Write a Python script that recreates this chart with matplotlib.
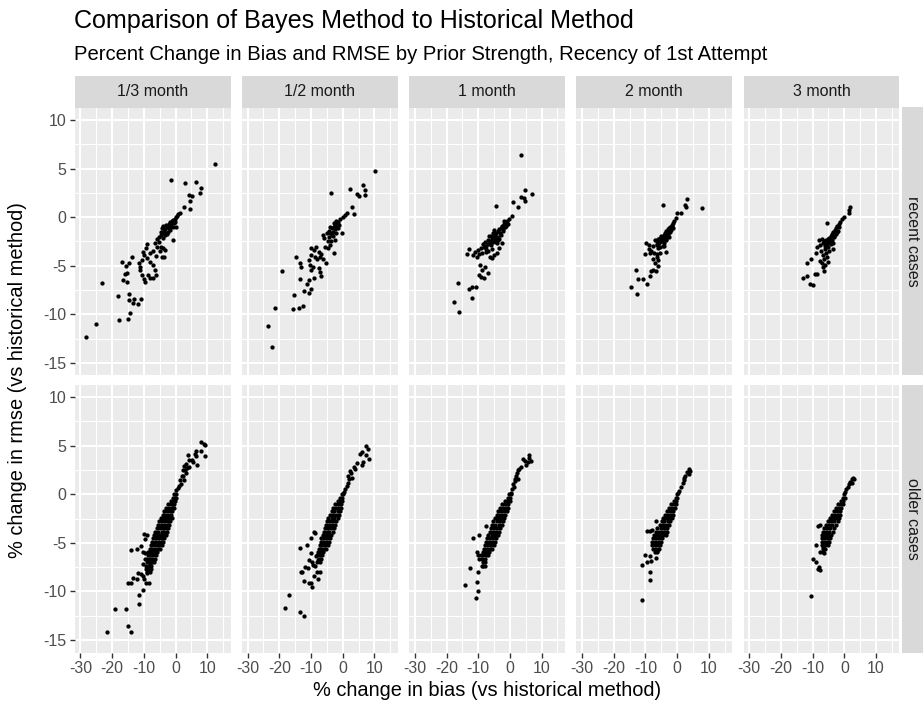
import numpy as np
import matplotlib.pyplot as plt
from matplotlib.patches import Rectangle

plt.rcParams['font.family'] = ['Liberation Sans', 'DejaVu Sans']
plt.rcParams['axes.unicode_minus'] = False

priors = ['1/3 month', '1/2 month', '1 month', '2 month', '3 month']
recency = ['recent cases', 'older cases']
x_ticks = [-30, -20, -10, 0, 10]
y_ticks = [-15, -10, -5, 0, 5, 10]

# (% change in bias, % change in rmse) -- recent cases
recent_13 = [(12.6, 5.48), (-1.37, 3.82), (2.83, 3.51), (6.5, 3.58), (7.9, 3.0), (7.66, 2.51),
             (4.2, 2.34), (5.1, 2.17), (4.6, 1.62), (2.6, 1.1), (4.5, 0.83), (1.4, 0.48),
             (0.84, 0.34), (0.5, 0.14), (0.1, 0.0), (-0.3, -0.17), (-0.7, -0.28), (-1.2, -0.34),
             (-1.6, -0.45), (-2.0, -0.69), (-2.4, -0.9), (-2.8, -1.03), (-3.25, -1.24),
             (-3.7, -1.38), (-4.1, -1.58), (-4.5, -1.79), (-4.7, -1.48), (-3.9, -0.9),
             (-3.0, -0.83), (-2.2, -1.14), (-1.6, -1.31), (-0.9, -0.96), (-0.5, -0.62),
             (0.3, -0.96), (-1.3, -0.69), (-2.3, -1.48), (-3.4, -1.83), (-4.3, -1.14),
             (-0.2, -0.45), (-0.7, -2.34), (-5.35, -2.07), (-6.0, -2.27), (-5.1, -2.51),
             (-6.5, -2.69), (-4.7, -3.03), (-5.8, -3.03), (-3.9, -3.2), (-3.25, -3.37),
             (-4.4, -4.06), (-3.7, -4.13), (-6.2, -4.0), (-7.0, -3.44), (-8.1, -3.72),
             (-9.1, -2.75), (-9.3, -3.2), (-10.2, -3.55), (-9.8, -3.9), (-10.7, -4.4),
             (-11.4, -4.75), (-11.2, -5.44), (-10.6, -5.96), (-10.0, -6.4), (-9.55, -6.65),
             (-8.1, -6.3), (-7.0, -6.3), (-6.2, -5.96), (-6.5, -5.44), (-7.0, -4.92),
             (-7.9, -4.58), (-9.1, -4.24), (-11.2, -5.1), (-8.8, -5.96), (-13.6, -4.06),
             (-17.0, -4.58), (-14.6, -4.75), (-15.7, -5.03), (-15.2, -5.72), (-15.85, -5.85),
             (-16.7, -6.47), (-15.4, -6.68), (-23.3, -6.75), (-18.0, -8.1), (-14.7, -7.95),
             (-14.6, -8.5), (-13.1, -8.4), (-13.3, -8.8), (-11.9, -8.95), (-11.0, -8.47),
             (-14.3, -9.85), (-17.7, -10.54), (-14.9, -10.5), (-25.1, -10.98), (-28.1, -12.36),
             (-3.4, -1.6), (-2.6, -1.7), (-4.0, -2.1), (-1.9, -1.0), (-1.2, -0.6), (-5.0, -3.5)]

recent_12 = [(10.1, 4.75), (-3.8, 2.48), (2.3, 2.9), (6.3, 3.3), (7.0, 2.82), (7.1, 2.34),
             (4.4, 2.41), (5.0, 2.17), (2.9, 1.07), (3.4, 0.31), (1.5, 0.41), (0.7, 0.21),
             (0.0, 0.0), (-0.84, -0.21), (-1.36, -0.45), (-1.9, -0.62), (-2.4, -0.79),
             (-2.9, -0.96), (-3.5, -1.14), (-4.0, -0.96), (-4.4, -1.38), (-4.0, -1.58),
             (-3.15, -1.48), (-2.3, -1.24), (-1.7, -0.96), (-1.05, -0.79), (-2.1, -0.34),
             (-2.9, -0.55), (-5.0, -1.65), (-6.1, -1.82), (-5.9, -2.17), (-4.2, -2.07),
             (-3.5, -1.82), (-2.3, -2.34), (-0.2, -1.65), (-4.0, -2.86), (-2.9, -3.65),
             (-4.8, -3.2), (-5.7, -3.03), (-8.4, -3.03), (-9.9, -3.17), (-9.0, -3.37),
             (-7.6, -3.55), (-6.7, -3.79), (-9.9, -3.89), (-8.6, -4.06), (-7.1, -4.06),
             (-6.1, -4.34), (-5.25, -4.68), (-8.2, -4.34), (-10.7, -4.4), (-10.3, -4.89),
             (-9.4, -5.1), (-9.9, -5.44), (-14.7, -4.06), (-13.6, -4.68), (-13.2, -5.17),
             (-7.6, -5.23), (-7.3, -5.65), (-6.9, -6.06), (-9.2, -6.3), (-10.7, -6.47),
             (-11.3, -6.89), (-13.4, -6.34), (-10.0, -7.37), (-10.5, -7.78), (-12.2, -7.58),
             (-19.0, -5.58), (-15.5, -7.99), (-21.4, -9.33), (-15.7, -9.44), (-13.65, -9.33),
             (-12.4, -9.19), (-23.7, -11.16), (-22.4, -13.4),
             (-2.6, -1.0), (-3.2, -1.9), (-1.4, -1.1), (-3.8, -2.5), (-4.6, -2.4), (-2.0, -1.6)]

recent_1 = [(3.6, 6.37), (4.7, 2.79), (6.9, 2.38), (3.6, 2.13), (4.4, 1.93), (4.9, 1.72),
            (0.84, 1.58), (2.4, 1.1), (-4.4, 1.14), (0.5, 0.17), (-0.3, -0.17), (-0.84, -0.34),
            (-1.4, -0.55), (-1.9, -0.69), (-2.4, -0.9), (-2.9, -1.1), (-3.5, -1.24),
            (-3.9, -1.45), (-4.3, -1.58), (-4.7, -1.79), (-5.1, -2.0), (-5.6, -2.2),
            (-6.0, -2.41), (-6.4, -2.62), (-7.0, -2.75), (-7.7, -2.96), (-8.3, -3.1),
            (-9.1, -3.17), (-10.2, -3.37), (-11.0, -3.55), (-12.9, -3.3), (-13.5, -3.79),
            (-11.6, -3.93), (-10.4, -4.06), (-9.8, -3.79), (-8.7, -3.72), (-7.5, -3.58),
            (-6.4, -4.06), (-5.8, -4.24), (-5.0, -3.93), (-4.1, -3.72), (-3.5, -3.2),
            (-2.6, -2.69), (-3.7, -2.34), (-4.5, -2.51), (-2.9, -1.82), (-2.2, -1.38),
            (-1.6, -1.03), (-0.7, -0.69), (-4.9, -1.31), (-5.4, -1.65), (-6.6, -1.93),
            (-7.0, -2.34), (-7.9, -2.55), (-8.5, -2.75), (-7.7, -3.3), (-9.3, -4.89),
            (-8.0, -5.1), (-8.9, -5.44), (-6.8, -5.79), (-9.1, -6.13), (-8.3, -6.27),
            (-9.8, -5.99), (-16.3, -6.78), (-11.9, -7.16), (-12.9, -7.44), (-10.8, -7.23),
            (-11.9, -8.33), (-17.5, -8.75), (-16.2, -9.75),
            (-3.0, -1.6), (-3.8, -2.0), (-4.6, -2.2), (-5.3, -2.6), (-6.0, -2.9), (-2.3, -1.2),
            (-1.2, -0.9), (-3.3, -2.2), (-4.0, -2.7), (-5.5, -3.3), (-6.8, -3.5), (-2.0, -0.4),
            (-5.9, -1.9)]

recent_2 = [(-4.6, 1.27), (3.15, 1.89), (2.5, 1.24), (2.9, 1.03), (7.7, 0.9), (1.15, 0.41),
            (0.0, 0.41), (-0.4, -0.1), (-0.84, -0.34), (-1.26, -0.55), (-1.68, -0.76),
            (-2.1, -0.96), (-2.5, -1.1), (-2.9, -1.24), (-3.4, -1.45), (-3.8, -1.65),
            (-4.2, -1.86), (-4.8, -2.0), (-5.5, -2.13), (-6.1, -2.27), (-6.5, -2.48),
            (-6.9, -2.34), (-6.3, -2.75), (-5.7, -2.62), (-5.0, -2.48), (-4.4, -2.27),
            (-3.8, -2.07), (-3.15, -1.79), (-2.5, -1.52), (-1.9, -1.31), (-1.26, -1.1),
            (-2.7, -2.0), (-3.4, -2.34), (-4.2, -2.69), (-4.6, -2.96), (-5.5, -3.03),
            (-6.5, -2.89), (-7.6, -2.96), (-8.8, -2.89), (-9.7, -2.62), (-9.0, -3.24),
            (-8.2, -3.44), (-10.1, -3.79), (-8.6, -3.65), (-7.35, -3.65), (-6.3, -3.79),
            (-5.25, -3.65), (-3.6, -3.55), (-6.5, -4.13), (-7.6, -4.34), (-6.1, -4.4),
            (-6.9, -4.75), (-6.1, -5.03), (-7.6, -5.44), (-8.2, -5.51), (-6.8, -5.58),
            (-8.6, -6.06), (-12.9, -5.44), (-12.3, -6.4), (-10.9, -6.4), (-9.45, -6.89),
            (-14.4, -7.16), (-12.6, -7.92),
            (-3.0, -1.8), (-3.6, -2.2), (-2.2, -1.5), (-4.9, -2.5), (-5.9, -3.2), (-4.0, -3.0),
            (-1.6, -0.9), (-5.2, -1.9)]

recent_3 = [(1.9, 1.03), (1.36, 0.76), (1.36, 0.41), (0.0, 0.0), (-0.84, -0.17), (-5.5, -0.55),
            (-1.36, -0.45), (-1.8, -0.69), (-2.2, -0.9), (-2.6, -1.1), (-3.0, -1.31),
            (-3.5, -1.52), (-3.9, -1.72), (-4.3, -1.93), (-4.7, -2.13), (-5.1, -2.27),
            (-5.8, -2.34), (-6.4, -2.48), (-7.0, -2.27), (-8.1, -2.34), (-8.5, -3.03),
            (-7.7, -2.89), (-6.8, -2.69), (-5.8, -2.75), (-5.0, -2.55), (-4.1, -2.34),
            (-3.25, -2.07), (-2.6, -1.72), (-2.0, -1.38), (-4.3, -2.75), (-5.1, -3.1),
            (-6.2, -3.3), (-7.45, -3.51), (-8.9, -3.65), (-6.8, -3.86), (-5.8, -3.65),
            (-4.7, -3.51), (-3.7, -3.24), (-5.35, -4.13), (-6.4, -4.34), (-5.1, -4.61),
            (-7.0, -4.75), (-6.2, -4.96), (-6.8, -5.17), (-6.4, -5.51), (-7.7, -4.48),
            (-11.65, -4.68), (-10.4, -4.34), (-11.65, -6.06), (-13.1, -6.3), (-9.1, -5.85),
            (-8.5, -5.85), (-10.8, -6.89), (-10.0, -6.96),
            (-3.3, -1.9), (-4.0, -2.3), (-4.6, -2.6), (-2.3, -1.5), (-5.4, -2.9), (-6.1, -3.0),
            (-1.6, -1.0), (-3.6, -2.7)]

# older cases: scattered points plus the dense band, band given as (rmse, [bias, ...]) rows
older_13 = [(8.1, 5.38), (8.9, 5.17), (9.35, 5.03), (8.1, 4.49), (9.45, 3.94), (6.6, 4.49),
            (6.2, 4.14), (6.6, 3.94), (4.0, 4.04), (6.8, 2.98), (4.4, 3.53), (5.5, 3.36),
            (5.25, 3.56), (3.25, 3.12), (4.3, 2.81), (2.4, 2.53), (3.15, 2.19), (1.9, 1.85),
            (2.6, 1.51), (1.36, 1.51), (2.2, 1.92), (3.05, 2.53), (2.6, 2.88), (3.5, 2.67),
            (1.6, 1.1), (1.15, 0.82), (0.73, 0.62), (0.3, 0.41), (-10.0, -4.1), (-9.1, -4.25),
            (-9.7, -4.66), (-14.2, -5.7), (-12.1, -5.6), (-10.2, -6.0), (-9.55, -6.1),
            (-10.9, -5.3), (-11.7, -8.1), (-11.0, -8.25), (-10.4, -8.4), (-13.4, -8.6),
            (-15.1, -9.15), (-14.0, -9.15), (-12.3, -8.7), (-9.9, -8.7), (-8.3, -9.1),
            (-9.3, -9.1), (-10.2, -9.9), (-11.55, -10.34), (-11.45, -11.27), (-19.0, -11.8),
            (-15.7, -11.8), (-15.0, -13.56), (-13.9, -14.18), (-21.7, -14.18), (-9.65, -6.7),
            (-10.2, -7.16), (-8.1, -7.05), (-8.9, -8.1)]
older_13_band = [(0.0, [-0.4, 0.1]), (-0.35, [-0.9, -0.3, 0.0]), (-0.7, [-1.5, -0.8, -0.3]),
                 (-1.05, [-2.3, -1.5, -0.9, -0.4]), (-1.4, [-2.9, -2.0, -1.2, -0.6]),
                 (-1.75, [-3.6, -2.7, -1.8, -1.0]), (-2.1, [-4.1, -3.2, -2.3, -1.4]),
                 (-2.45, [-4.6, -3.7, -2.8, -1.8, -1.2]), (-2.8, [-5.2, -4.2, -3.2, -2.3, -1.6]),
                 (-3.15, [-5.6, -4.6, -3.6, -2.7, -2.0]), (-3.5, [-6.0, -5.0, -4.0, -3.1, -2.3]),
                 (-3.85, [-6.4, -5.4, -4.4, -3.5, -2.7]), (-4.2, [-6.8, -5.8, -4.8, -3.9, -3.1]),
                 (-4.55, [-7.2, -6.2, -5.2, -4.3, -3.6]), (-4.9, [-7.5, -6.6, -5.6, -4.7, -4.0]),
                 (-5.25, [-7.8, -6.9, -6.0, -5.1, -4.4]), (-5.6, [-8.2, -7.3, -6.4, -5.5, -4.9]),
                 (-5.95, [-8.6, -7.6, -6.7, -5.9]), (-6.3, [-8.8, -7.9, -7.0, -6.2]),
                 (-6.65, [-9.0, -8.1, -7.3, -6.6]), (-7.0, [-9.1, -8.3, -7.5, -6.9]),
                 (-7.35, [-9.2, -8.4, -7.6]), (-7.7, [-9.3, -8.5, -7.8]), (-8.05, [-9.0, -8.1])]

older_12 = [(7.2, 4.97), (8.0, 4.62), (8.4, 3.6), (6.1, 4.35), (5.5, 4.1), (6.5, 3.32),
            (6.1, 2.98), (7.35, 4.0), (4.6, 3.18), (3.4, 2.84), (4.0, 2.57), (2.6, 2.16),
            (2.9, 1.71), (2.1, 1.54), (1.8, 1.2), (1.26, 0.86), (0.84, 0.51), (0.42, 0.24),
            (1.7, 1.88), (2.3, 2.4), (-10.1, -4.55), (-8.6, -4.0), (-9.0, -3.87),
            (-11.3, -5.2), (-13.6, -5.55), (-11.8, -7.53), (-10.9, -7.64), (-13.2, -7.98),
            (-12.8, -7.98), (-9.7, -6.95), (-8.8, -7.36), (-8.2, -7.98), (-7.3, -7.98),
            (-9.0, -8.39), (-12.2, -8.97), (-10.5, -9.14), (-9.7, -9.59), (-10.0, -9.14),
            (-16.9, -10.38), (-18.2, -11.75), (-13.4, -12.09), (-12.2, -12.5), (-10.1, -6.06),
            (-8.4, -6.34), (-10.7, -6.75), (-7.8, -6.82), (-9.45, -7.29), (-7.8, -8.73)]
older_12_band = [(0.0, [-0.3, 0.2]), (-0.35, [-0.8, -0.2]), (-0.7, [-1.6, -0.8, -0.2]),
                 (-1.05, [-2.4, -1.5, -0.6]), (-1.4, [-3.0, -2.1, -1.1, -0.4]),
                 (-1.75, [-3.5, -2.6, -1.6, -0.8]), (-2.1, [-4.0, -3.1, -2.1, -1.2]),
                 (-2.45, [-4.5, -3.5, -2.6, -1.6]), (-2.8, [-4.9, -3.9, -3.0, -2.0]),
                 (-3.15, [-5.3, -4.3, -3.4, -2.4]), (-3.5, [-5.6, -4.7, -3.8, -2.8]),
                 (-3.85, [-6.0, -5.1, -4.2, -3.2]), (-4.2, [-6.3, -5.4, -4.5, -3.6]),
                 (-4.55, [-6.7, -5.8, -4.9, -4.0]), (-4.9, [-7.0, -6.1, -5.2, -4.4]),
                 (-5.25, [-7.3, -6.4, -5.6, -4.8]), (-5.6, [-7.6, -6.7, -5.9, -5.2]),
                 (-5.95, [-7.9, -7.0, -6.2]), (-6.3, [-8.1, -7.3, -6.5]), (-6.65, [-7.6, -6.9]),
                 (-7.0, [-8.0, -7.2])]

older_1 = [(6.1, 4.0), (6.5, 3.42), (5.6, 3.32), (4.6, 3.39), (4.2, 3.6), (5.0, 2.98),
           (2.7, 2.5), (2.1, 2.23), (2.4, 1.61), (1.7, 1.54), (1.05, 1.03), (0.6, 0.51),
           (0.2, 0.17), (2.9, 2.64), (5.9, 3.73), (3.6, 2.84), (1.5, 1.34), (1.9, 1.88),
           (1.3, 0.79), (-11.5, -4.55), (-9.9, -4.2), (-7.6, -3.3), (-10.1, -6.27),
           (-9.2, -6.27), (-10.5, -6.0), (-9.7, -6.68), (-12.6, -7.6), (-10.1, -8.05),
           (-14.3, -9.35), (-10.3, -9.08), (-10.2, -9.93), (-10.6, -10.65), (-8.8, -7.43),
           (-8.0, -7.36)]
older_1_band = [(0.0, [-0.2, 0.3]), (-0.35, [-0.7, 0.0]), (-0.7, [-1.4, -0.6, 0.0]),
                (-1.05, [-2.4, -1.5, -0.6]), (-1.4, [-3.1, -2.2, -1.3, -0.5]),
                (-1.75, [-3.7, -2.8, -1.9, -1.0]), (-2.1, [-4.2, -3.3, -2.4, -1.4]),
                (-2.45, [-4.7, -3.8, -2.8, -1.8]), (-2.8, [-5.2, -4.2, -3.2, -2.2]),
                (-3.15, [-5.6, -4.6, -3.6, -2.6]), (-3.5, [-6.0, -5.0, -4.0, -3.0]),
                (-3.85, [-6.4, -5.4, -4.4, -3.4]), (-4.2, [-6.8, -5.8, -4.8, -3.8]),
                (-4.55, [-7.2, -6.2, -5.2, -4.3]), (-4.9, [-7.5, -6.6, -5.6, -4.7]),
                (-5.25, [-7.8, -6.9, -6.0, -5.1]), (-5.6, [-8.1, -7.2, -6.3, -5.5]),
                (-5.95, [-8.4, -7.5, -6.6]), (-6.3, [-8.6, -7.7, -6.9]), (-6.65, [-8.7, -7.9]),
                (-7.0, [-8.6, -7.8]), (-7.35, [-8.4])]

older_2 = [(3.7, 2.64), (4.1, 2.4), (3.0, 2.3), (2.6, 1.88), (3.4, 2.16), (2.3, 1.47),
           (1.8, 1.2), (1.26, 0.79), (0.7, 0.34), (0.3, 0.1), (2.2, 1.71), (3.9, 2.05),
           (-9.6, -3.77), (-8.7, -3.77), (-7.9, -3.66), (-6.8, -2.74), (-10.0, -6.27),
           (-11.2, -7.26), (-9.55, -7.02), (-8.7, -6.4), (-6.8, -6.6), (-8.3, -6.88),
           (-8.7, -7.98), (-8.7, -8.87), (-11.0, -10.86), (-7.0, -5.99), (-6.4, -5.86)]
older_2_band = [(0.0, [0.0]), (-0.35, [-0.5, 0.1]), (-0.7, [-1.1, -0.4]),
                (-1.05, [-1.9, -1.0, -0.3]), (-1.4, [-2.6, -1.7, -0.8]),
                (-1.75, [-3.2, -2.3, -1.3]), (-2.1, [-3.8, -2.9, -2.0, -1.3]),
                (-2.45, [-4.3, -3.4, -2.5, -1.7]), (-2.8, [-4.9, -4.0, -3.0, -2.1]),
                (-3.15, [-5.5, -4.5, -3.5, -2.5]), (-3.5, [-6.2, -5.2, -4.2, -3.1]),
                (-3.85, [-6.8, -5.8, -4.8, -3.8, -3.2]), (-4.2, [-7.3, -6.3, -5.3, -4.3, -3.6]),
                (-4.55, [-7.6, -6.7, -5.7, -4.7]), (-4.9, [-8.0, -7.0, -6.0, -5.1]),
                (-5.25, [-7.8, -6.9, -6.0, -5.3]), (-5.6, [-7.6, -6.7, -5.8]), (-5.95, [-6.4])]

older_3 = [(2.7, 1.71), (2.3, 1.54), (1.9, 1.27), (1.5, 1.03), (1.05, 0.79), (0.63, 0.51),
           (0.2, 0.24), (2.5, 1.2), (2.9, 1.54), (-8.3, -3.25), (-7.6, -3.18), (-8.8, -5.24),
           (-7.8, -5.99), (-9.9, -6.68), (-9.0, -7.02), (-8.0, -7.53), (-7.6, -7.77),
           (-8.2, -7.7), (-10.6, -10.45), (-6.3, -6.06), (-6.7, -5.48), (-5.7, -5.17)]
older_3_band = [(0.0, [0.0]), (-0.35, [-0.5, 0.1]), (-0.7, [-1.1, -0.4]),
                (-1.05, [-2.0, -1.1, -0.3]), (-1.4, [-2.7, -1.8, -0.9]),
                (-1.75, [-3.3, -2.4, -1.4]), (-2.1, [-3.9, -3.0, -2.0, -1.3]),
                (-2.45, [-4.5, -3.6, -2.6, -1.7]), (-2.8, [-5.2, -4.2, -3.2, -2.1]),
                (-3.15, [-5.9, -4.9, -3.9, -2.6]), (-3.5, [-6.3, -5.4, -4.4, -3.2]),
                (-3.85, [-6.6, -5.7, -4.8, -3.7]), (-4.2, [-6.9, -6.0, -5.1, -4.1]),
                (-4.55, [-7.1, -6.2, -5.3, -4.4]), (-4.9, [-7.2, -6.4, -5.5, -4.7]),
                (-5.25, [-7.0, -6.1, -5.2]), (-5.6, [-6.8, -6.0]), (-5.95, [-6.6])]

recent = [recent_13, recent_12, recent_1, recent_2, recent_3]
older = [older_13, older_12, older_1, older_2, older_3]
older_bands = [older_13_band, older_12_band, older_1_band, older_2_band, older_3_band]


def band_points(rows):
    return [(bx, by) for by, xs in rows for bx in xs]


W, H = 924, 704


def box(left, top, width, height):
    return [left / W, 1 - (top + height) / H, width / W, height / H]


fig = plt.figure(figsize=(9.24, 7.04), dpi=100)

panel_w, panel_h = 156, 268
lefts = [74.7 + 167.2 * k for k in range(5)]
tops = [107.5, 384.5]
tick_color = '#4D4D4D'

for r in range(2):
    for c in range(5):
        ax = fig.add_axes(box(lefts[c], tops[r], panel_w, panel_h))
        ax.set_facecolor('#EBEBEB')
        ax.set_xlim(-31.8, 17.4)
        ax.set_ylim(-16.3, 11.3)
        ax.set_xticks(x_ticks)
        ax.set_yticks(y_ticks)
        ax.set_xticks([-25, -15, -5, 5, 15], minor=True)
        ax.set_yticks([-12.5, -7.5, -2.5, 2.5, 7.5], minor=True)
        ax.grid(True, which='major', color='white', linewidth=1.5)
        ax.grid(True, which='minor', color='white', linewidth=0.75)
        ax.set_axisbelow(True)
        for s in ax.spines.values():
            s.set_visible(False)
        ax.tick_params(which='minor', length=0)
        ax.tick_params(which='major', length=3.6, width=1.0, color='#333333',
                       labelsize=11.5, labelcolor=tick_color, pad=2.5)
        if r == 0:
            ax.tick_params(axis='x', length=0, labelbottom=False)
        if c > 0:
            ax.tick_params(axis='y', length=0, labelleft=False)

        if r == 0:
            pts = np.array(recent[c])
        else:
            pts = np.array(older[c] + band_points(older_bands[c]))
        ax.scatter(pts[:, 0], pts[:, 1], s=9.5, color='black', linewidths=0, zorder=3)

# column strips
for c in range(5):
    sax = fig.add_axes(box(lefts[c], 76, panel_w, 31.5))
    sax.add_patch(Rectangle((0, 0), 1, 1, color='#D9D9D9', transform=sax.transAxes))
    sax.text(0.5, 0.5, priors[c], ha='center', va='center', fontsize=11.5, color='#1A1A1A')
    sax.axis('off')

# row strips
for r in range(2):
    sax = fig.add_axes(box(901.5, tops[r], 21.5, panel_h))
    sax.add_patch(Rectangle((0, 0), 1, 1, color='#D9D9D9', transform=sax.transAxes))
    sax.text(0.5, 0.5, recency[r], ha='center', va='center', rotation=-90,
             fontsize=11.5, color='#1A1A1A')
    sax.axis('off')

fig.text(74 / W, 1 - 28.3 / H, 'Comparison of Bayes Method to Historical Method',
         fontsize=18.1, ha='left', va='baseline')
fig.text(74 / W, 1 - 60 / H,
         'Percent Change in Bias and RMSE by Prior Strength, Recency of 1st Attempt',
         fontsize=14.6, ha='left', va='baseline')
fig.text(487 / W, 1 - 691 / H, '% change in bias (vs historical method)',
         fontsize=14.4, ha='center', va='center')
fig.text(18 / W, 1 - 380 / H, '% change in rmse (vs historical method)',
         fontsize=14.4, ha='center', va='center', rotation=90)

fig.savefig('out.png', dpi=100)
